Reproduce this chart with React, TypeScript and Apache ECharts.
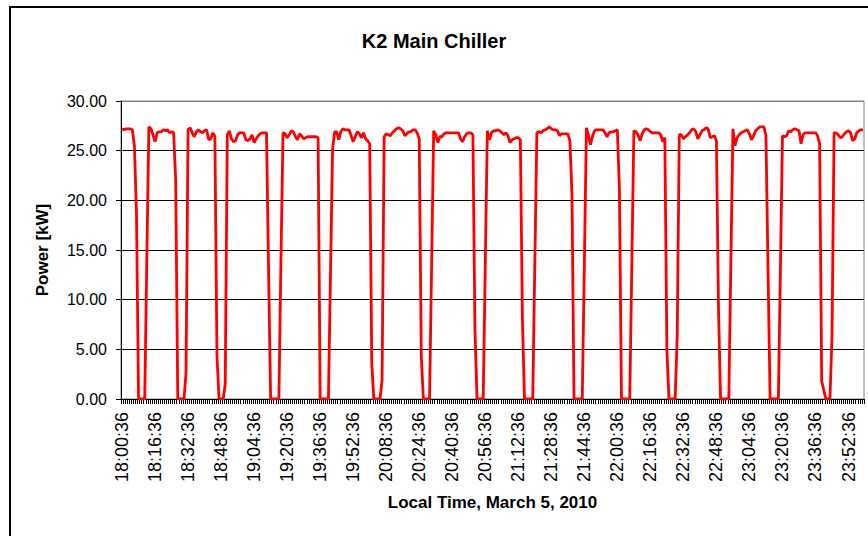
import React, { useEffect, useRef } from "react";
import * as echarts from "echarts";

// Power [kW], one sample per minute, 18:00:36 .. 23:59:36
const hour18 = [
  27.2, 27.1, 27.2, 27.2, 27.2, 27.1, 25.5, 18.7, 0, 0,
  0, 0, 14, 27.4, 27.2, 26.6, 25.9, 26.8, 26.9, 26.9,
  27.1, 27.0, 27.1, 26.8, 26.9, 26.8, 22, 0, 0, 0,
  0, 2.6, 27.1, 27.3, 26.8, 26.4, 26.9, 27.1, 26.9, 26.8,
  27.0, 27.1, 26.1, 26.2, 26.8, 26.4, 4.3, 0, 0, 0,
  1.5, 26.6, 27.0, 26.2, 25.9, 26.0, 26.6, 26.8, 26.8, 26.8,
];
const hour19 = [
  26.1, 26.0, 26.2, 26.6, 25.8, 26.2, 26.5, 26.7, 26.8, 26.8,
  26.8, 13, 0, 0, 0, 0, 0, 14, 26.8, 26.7,
  26.3, 26.6, 27.0, 26.9, 26.4, 26.1, 26.7, 26.5, 26.2, 26.3,
  26.4, 26.4, 26.4, 26.4, 26.4, 26.3, 0, 0, 0, 0,
  0, 12.5, 25.1, 26.9, 26.9, 26.1, 26.9, 27.2, 27.1, 27.1,
  27.1, 26.5, 25.9, 26.4, 26.9, 26.7, 26.3, 26.8, 26.2, 26.0,
];
const hour20 = [
  25.7, 3.6, 0, 0, 0, 0, 1.9, 26.4, 26.7, 26.6,
  26.5, 26.8, 27.0, 27.2, 27.3, 27.2, 27.0, 26.5, 26.7, 26.9,
  26.9, 27.1, 27.1, 26.8, 26.2, 4.3, 0, 0, 0, 0,
  13.5, 27.0, 26.6, 25.8, 26.4, 26.4, 26.7, 26.8, 26.8, 26.8,
  26.8, 26.8, 26.8, 26.8, 26.2, 25.9, 26.4, 26.7, 26.8, 26.8,
  26.6, 7, 0, 0, 0, 0, 13.5, 27.0, 26.1, 26.8,
];
const hour21 = [
  27.0, 27.0, 27.1, 27.0, 26.8, 26.6, 26.8, 26.5, 25.8, 26.1,
  26.2, 26.3, 26.3, 26.1, 8, 0, 0, 0, 0, 0,
  13.5, 26.8, 26.9, 26.8, 27.0, 27.1, 27.2, 27.4, 27.2, 27.1,
  27.1, 27.0, 26.5, 26.7, 26.7, 26.7, 26.7, 26.0, 20.7, 0,
  0, 0, 0, 0, 13.5, 27.3, 26.5, 25.6, 26.5, 27.0,
  27.1, 27.1, 27.1, 27.1, 26.8, 26.4, 26.8, 26.9, 26.9, 27.0,
];
const hour22 = [
  27.1, 21, 0, 0, 0, 0, 0, 13.5, 27.0, 26.9,
  26.6, 26.0, 26.7, 27.1, 27.2, 27.1, 26.9, 26.8, 26.8, 26.8,
  26.8, 26.6, 25.9, 26.3, 4.9, 0, 0, 0, 0, 6.4,
  26.6, 26.6, 26.2, 26.4, 26.6, 26.8, 27.1, 27.2, 26.9, 26.2,
  26.6, 27.0, 27.1, 27.3, 27.2, 26.3, 26.4, 26.5, 26.0, 9.1,
  0, 0, 0, 0, 0, 14, 27.2, 25.5, 26.3, 26.6,
];
const hour23 = [
  26.8, 26.9, 27.0, 27.1, 26.7, 26.1, 26.5, 27.0, 27.2, 27.4,
  27.4, 27.4, 26.5, 13, 0, 0, 0, 0, 0, 13,
  26.5, 26.4, 26.5, 27.0, 26.9, 27.1, 27.2, 27.1, 27.0, 25.7,
  26.6, 26.8, 26.8, 26.8, 26.8, 26.8, 26.8, 26.5, 25.7, 1.8,
  0.9, 0, 0, 0, 6.4, 26.8, 26.8, 26.6, 26.3, 26.4,
  26.7, 26.9, 27.0, 26.8, 26.0, 26.2, 26.8, 27.0, 27.1, 27.1,
];

const hours = [18, 19, 20, 21, 22, 23];
const seconds = "36";

const pad = (n: number) => (n < 10 ? "0" + n : "" + n);
const categories: string[] = [];
hours.forEach((h) => {
  for (let m = 0; m < 60; m++) categories.push(`${h}:${pad(m)}:${seconds}`);
});
const power = [...hour18, ...hour19, ...hour20, ...hour21, ...hour22, ...hour23];

const FONT = "'Liberation Sans', Arial, sans-serif";

export default function App() {
  const ref = useRef<HTMLDivElement>(null);
  useEffect(() => {
    if (!ref.current) return;
    const chart = echarts.init(ref.current, null, { renderer: "svg" });
    chart.setOption({
      animation: false,
      backgroundColor: "#ffffff",
      title: {
        text: "K2 Main Chiller",
        left: "center",
        top: 26,
        textStyle: { fontFamily: FONT, fontSize: 20, fontWeight: "bold", color: "#000" },
      },
      graphic: [
        {
          type: "rect",
          shape: { x: 10, y: 7, width: 900, height: 600 },
          style: { fill: "none", stroke: "#000", lineWidth: 2 },
          silent: true,
        },
      ],
      grid: {
        left: 121,
        right: 4,
        top: 101,
        bottom: 137,
        show: true,
        borderColor: "#808080",
        borderWidth: 1,
        backgroundColor: "#fff",
      },
      xAxis: {
        type: "category",
        data: categories,
        boundaryGap: true,
        name: "Local Time, March 5, 2010",
        nameLocation: "middle",
        nameGap: 95,
        nameTextStyle: { fontFamily: FONT, fontSize: 17, fontWeight: "bold", color: "#000" },
        axisLine: { lineStyle: { color: "#000", width: 1 } },
        axisTick: { show: true, interval: 0, length: 5, lineStyle: { color: "#000", width: 1 } },
        axisLabel: {
          interval: 15,
          rotate: 90,
          margin: 13,
          fontFamily: FONT,
          fontSize: 18,
          color: "#000",
        },
        splitLine: { show: false },
      },
      yAxis: {
        type: "value",
        min: 0,
        max: 30,
        interval: 5,
        name: "Power [kW]",
        nameLocation: "middle",
        nameGap: 70,
        nameTextStyle: { fontFamily: FONT, fontSize: 17, fontWeight: "bold", color: "#000" },
        axisLine: { show: true, lineStyle: { color: "#000", width: 1 } },
        axisTick: { show: true, length: 5, lineStyle: { color: "#000" } },
        axisLabel: {
          margin: 14,
          fontFamily: FONT,
          fontSize: 16,
          color: "#000",
          formatter: (v: number) => v.toFixed(2),
        },
        splitLine: {
          show: true,
          lineStyle: {
            color: ["#000", "#000", "#000", "#000", "#000", "#000", "#808080"],
            width: 1,
          },
        },
      },
      series: [
        {
          type: "line",
          data: power,
          showSymbol: false,
          symbol: "none",
          lineStyle: { color: "#ff0000", width: 2.8 },
          itemStyle: { color: "#ff0000" },
        },
      ],
    });
    return () => chart.dispose();
  }, []);
  return (
    <div
      ref={ref}
      style={{ position: "absolute", left: 0, top: 0, width: 868, height: 536 }}
    />
  );
}
